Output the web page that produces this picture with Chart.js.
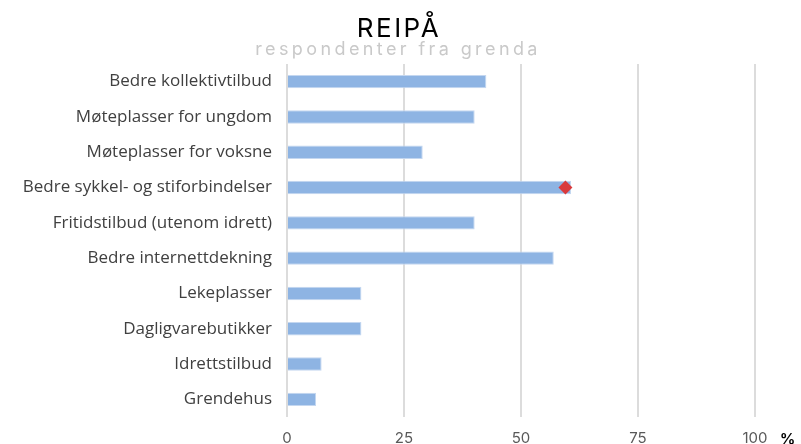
<!DOCTYPE html>
<html>
<head>
<meta charset="utf-8">
<script src="https://cdn.jsdelivr.net/npm/chart.js@4/dist/chart.umd.min.js"></script>
<style>
  html, body { margin: 0; padding: 0; background: #fff; }
  #wrap { width: 801px; height: 444px; }
</style>
</head>
<body>
<div id="wrap"><canvas id="reipa"></canvas></div>
<script>
var categories = [
  "Bedre kollektivtilbud",
  "Møteplasser for ungdom",
  "Møteplasser for voksne",
  "Bedre sykkel- og stiforbindelser",
  "Fritidstilbud (utenom idrett)",
  "Bedre internettdekning",
  "Lekeplasser",
  "Dagligvarebutikker",
  "Idrettstilbud",
  "Grendehus"
];
// % of respondents from the area
var shareValues = [42.6, 40.1, 29.0, 60.7, 40.1, 57.0, 15.9, 15.9, 7.4, 6.2];
// red diamond marker, only on one row
var markerValues = [null, null, null, 59.5, null, null, null, null, null, null];
var xTicks = [0, 25, 50, 75, 100];

var titleText = "REIPÅ";
var subtitleText = "respondenter fra grenda";

// title + subtitle with letter spacing, and the % after the last tick
var titlePlugin = {
  id: "spacedTitle",
  afterDraw: function(chart) {
    var ctx = chart.ctx;
    ctx.save();
    ctx.textAlign = "center";
    ctx.textBaseline = "alphabetic";
    ctx.letterSpacing = "2.5px";
    ctx.fillStyle = "#000";
    ctx.font = "26px Inter";
    ctx.fillText(titleText, 399, 37);
    ctx.letterSpacing = "3.4px";
    ctx.fillStyle = "#c9c9c9";
    ctx.font = "18px Inter";
    ctx.fillText(subtitleText, 398, 55);
    ctx.letterSpacing = "0px";
    var xs = chart.scales.x;
    ctx.textAlign = "left";
    ctx.textBaseline = "middle";
    ctx.fillStyle = "#000";
    ctx.font = "bold 15px Inter";
    ctx.fillText("%", xs.getPixelForValue(100) + 25, 439);
    ctx.restore();
  }
};

var ctx = document.getElementById("reipa").getContext("2d");
var myChart = new Chart(ctx, {
  type: "bar",
  data: {
    labels: categories,
    datasets: [
      {
        type: "line",
        indexAxis: "y",
        label: "marker",
        data: markerValues,
        showLine: false,
        pointStyle: "rectRot",
        pointRadius: 7,
        pointBackgroundColor: "#d93a3c",
        pointBorderColor: "#d93a3c",
        pointBorderWidth: 0
      },
      {
        label: "Andel",
        data: shareValues,
        backgroundColor: "rgb(142, 180, 227)",
        borderColor: "rgb(196, 215, 240)",
        borderWidth: 1,
        barPercentage: 0.38,
        categoryPercentage: 1
      }
    ]
  },
  options: {
    indexAxis: "y",
    responsive: true,
    maintainAspectRatio: false,
    animation: false,
    layout: { padding: { top: 64, right: 46, bottom: 0, left: 0 } },
    plugins: {
      legend: { display: false },
      tooltip: { enabled: false }
    },
    scales: {
      x: {
        min: 0,
        max: 100,
        afterBuildTicks: function(scale) {
          scale.ticks = xTicks.map(function(v) { return { value: v }; });
        },
        afterFit: function(scale) { scale.height = 27; },
        grid: { color: "#dcdcdc", lineWidth: 2, drawTicks: false },
        border: { display: false },
        ticks: {
          color: "#595959",
          font: { family: "Inter", size: 15 },
          padding: 12,
          maxRotation: 0
        }
      },
      y: {
        afterFit: function(scale) { scale.width = 287; },
        grid: { display: false, drawTicks: false },
        border: { display: false },
        ticks: {
          color: "#404040",
          font: { family: "Open Sans", size: 17 },
          padding: 15
        }
      }
    }
  },
  plugins: [titlePlugin]
});
</script>
</body>
</html>
